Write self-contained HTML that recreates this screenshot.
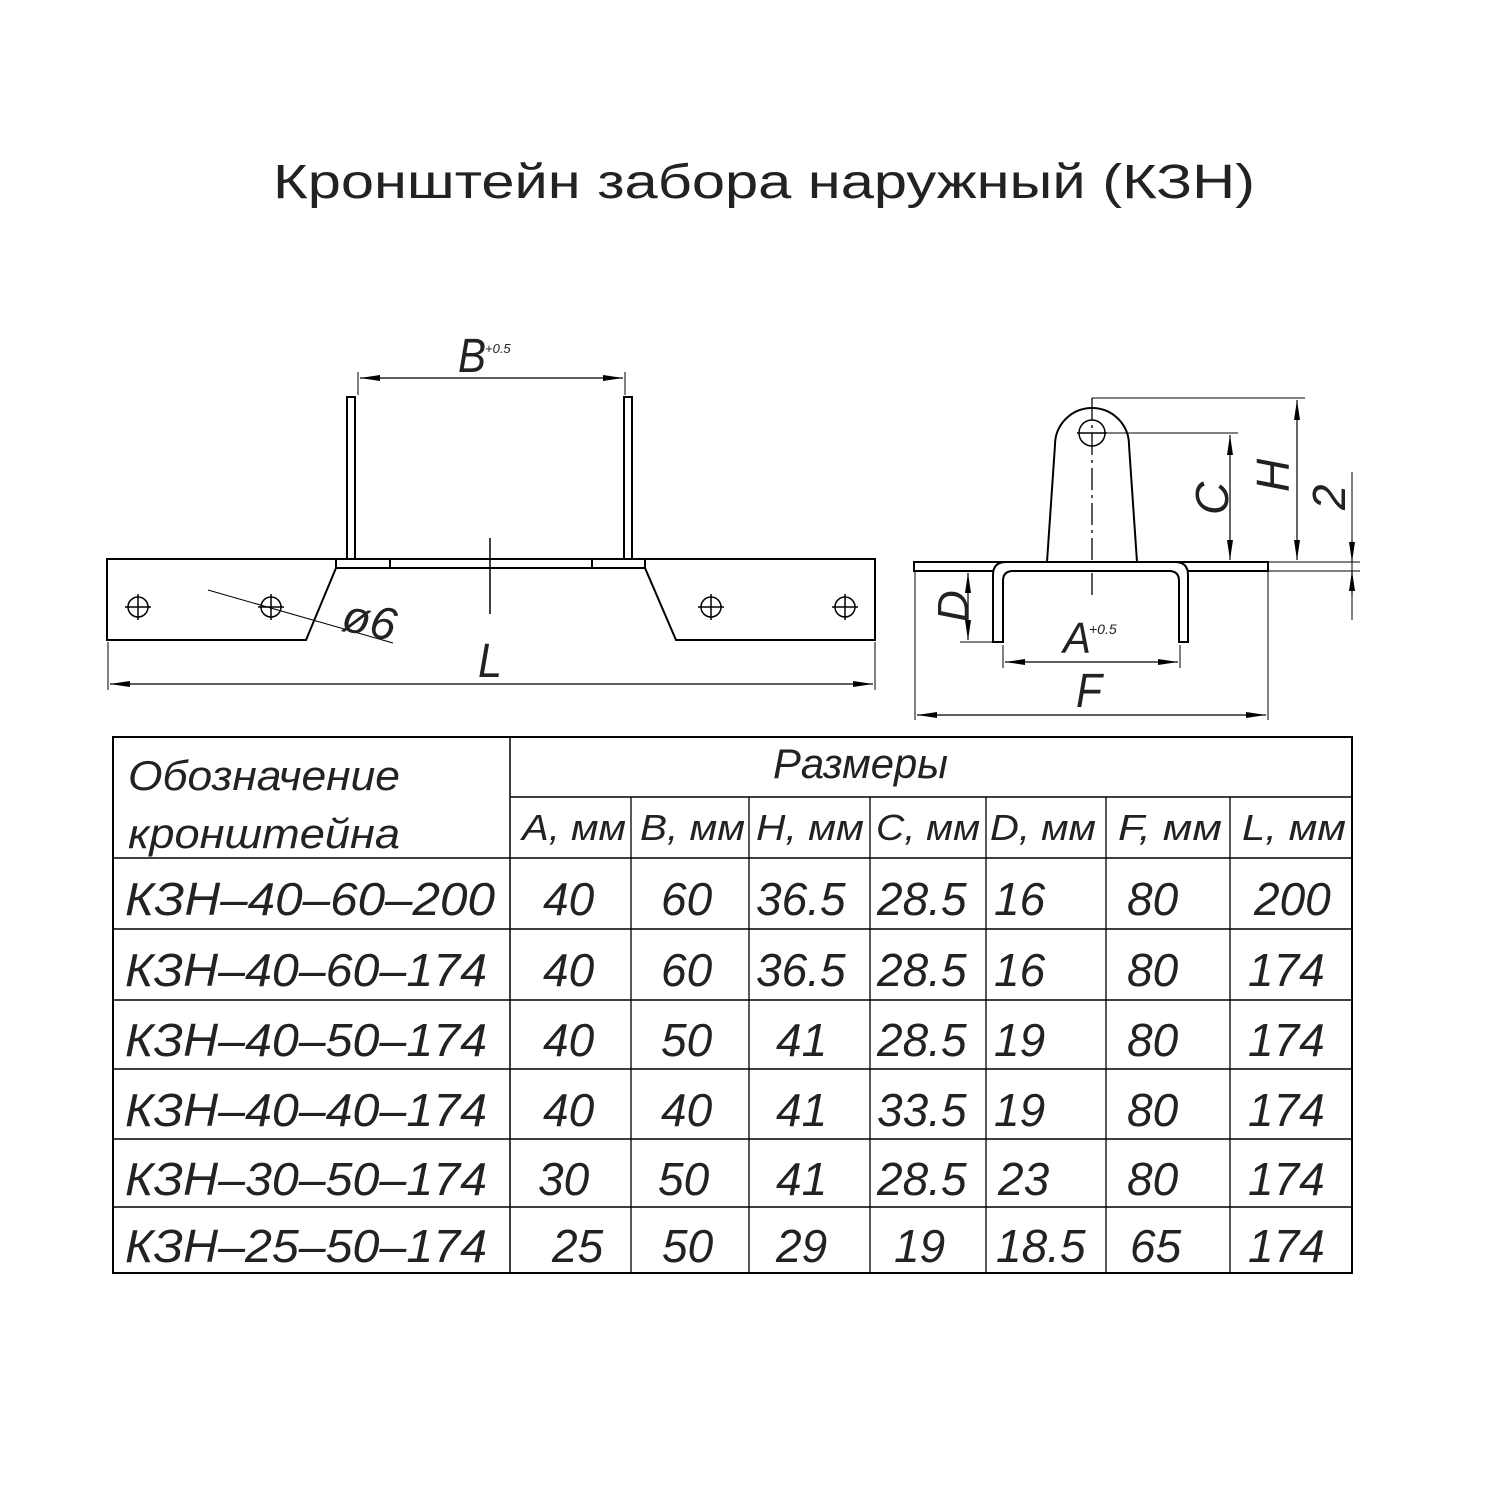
<!DOCTYPE html>
<html><head><meta charset="utf-8"><style>
html,body{margin:0;padding:0;background:#fff;width:1500px;height:1500px;overflow:hidden}
svg{display:block}
text{font-family:"Liberation Sans","DejaVu Sans",sans-serif;font-style:italic;fill:#222}
</style></head><body>
<svg width="1500" height="1500" viewBox="0 0 1500 1500" xmlns="http://www.w3.org/2000/svg">
<defs>
<marker id="ar" viewBox="0 0 20 8" refX="20" refY="4" markerWidth="20" markerHeight="8" markerUnits="userSpaceOnUse" orient="auto-start-reverse"><path d="M0,1 L20,4 L0,7 Z" fill="#000"/></marker>
</defs>
<text x="273" y="198" font-size="48" style="font-style:normal" textLength="982" lengthAdjust="spacingAndGlyphs">Кронштейн  забора  наружный  (КЗН)</text>

<g stroke="#000" stroke-width="2" fill="none">
<path d="M107,559 H875 V640 H676 L645,568 H336 L306,640 H107 Z"/>
<line x1="336" y1="568" x2="336" y2="559"/><line x1="390" y1="568" x2="390" y2="559"/><line x1="592" y1="568" x2="592" y2="559"/><line x1="645" y1="568" x2="645" y2="559"/>
<path d="M347,559 V397 H355 V559"/><path d="M624,559 V397 H632 V559"/>
<line x1="490" y1="538" x2="490" y2="614" stroke-width="1.5"/>
<g stroke-width="1.5">
<circle cx="138" cy="607" r="10"/><line x1="125" y1="607" x2="151" y2="607"/><line x1="138" y1="594" x2="138" y2="620"/>
<circle cx="271" cy="607" r="10"/><line x1="258" y1="607" x2="284" y2="607"/><line x1="271" y1="594" x2="271" y2="620"/>
<circle cx="711" cy="607" r="10"/><line x1="698" y1="607" x2="724" y2="607"/><line x1="711" y1="594" x2="711" y2="620"/>
<circle cx="845" cy="607" r="10"/><line x1="832" y1="607" x2="858" y2="607"/><line x1="845" y1="594" x2="845" y2="620"/>
</g>
<line x1="208" y1="590" x2="393" y2="643" stroke-width="1"/>
<line x1="358" y1="372" x2="358" y2="395" stroke-width="1"/><line x1="625" y1="372" x2="625" y2="395" stroke-width="1"/>
<line x1="360" y1="378" x2="623" y2="378" stroke-width="1.2" marker-start="url(#ar)" marker-end="url(#ar)"/>
<line x1="108" y1="642" x2="108" y2="690" stroke-width="1"/><line x1="875" y1="642" x2="875" y2="690" stroke-width="1"/>
<line x1="110" y1="684" x2="873" y2="684" stroke-width="1.2" marker-start="url(#ar)" marker-end="url(#ar)"/>

<path d="M914,562 H1268 V571 H914 Z"/>
<path d="M1047,562 L1055,445 A37,37 0 0 1 1129,445 L1137,562" fill="#fff"/>
<circle cx="1092" cy="433" r="13" stroke-width="1.5"/>
<line x1="1077" y1="433" x2="1107" y2="433" stroke-width="1.5"/>
<line x1="1092" y1="398" x2="1092" y2="595" stroke-width="1.3" stroke-dasharray="22,5,3,5"/>
<path d="M993,642 V575 Q993,562 1006,562 H1175 Q1188,562 1188,575 V642 H1179 V581 Q1179,571 1169,571 H1013 Q1003,571 1003,581 V642 Z" fill="#fff"/>
<g stroke-width="1">
<line x1="1092" y1="398" x2="1305" y2="398"/>
<line x1="1107" y1="433" x2="1238" y2="433"/>
<line x1="1268" y1="562" x2="1360" y2="562"/><line x1="1268" y1="571" x2="1360" y2="571"/>
<line x1="960" y1="642" x2="993" y2="642"/>
<line x1="1003" y1="645" x2="1003" y2="668"/><line x1="1180" y1="645" x2="1180" y2="668"/>
<line x1="915" y1="571" x2="915" y2="720"/><line x1="1268" y1="571" x2="1268" y2="720"/>
<line x1="1352" y1="472" x2="1352" y2="620"/>
</g>
<line x1="1230" y1="435" x2="1230" y2="560" stroke-width="1.2" marker-start="url(#ar)" marker-end="url(#ar)"/>
<line x1="1297" y1="400" x2="1297" y2="560" stroke-width="1.2" marker-start="url(#ar)" marker-end="url(#ar)"/>
<line x1="968" y1="573" x2="968" y2="640" stroke-width="1.2" marker-start="url(#ar)" marker-end="url(#ar)"/>
<line x1="1005" y1="662" x2="1178" y2="662" stroke-width="1.2" marker-start="url(#ar)" marker-end="url(#ar)"/>
<line x1="917" y1="715" x2="1266" y2="715" stroke-width="1.2" marker-start="url(#ar)" marker-end="url(#ar)"/>
<line x1="1352" y1="540" x2="1352" y2="562" stroke-width="1.2" marker-end="url(#ar)"/>
<line x1="1352" y1="595" x2="1352" y2="571" stroke-width="1.2" marker-end="url(#ar)"/>

<rect x="113" y="737" width="1239" height="536"/>
<line x1="510" y1="797" x2="1352" y2="797" stroke-width="1.5"/>
<line x1="113" y1="858" x2="1352" y2="858" stroke-width="1.5"/>
<line x1="113" y1="929" x2="1352" y2="929" stroke-width="1.5"/>
<line x1="113" y1="1000" x2="1352" y2="1000" stroke-width="1.5"/>
<line x1="113" y1="1069" x2="1352" y2="1069" stroke-width="1.5"/>
<line x1="113" y1="1139" x2="1352" y2="1139" stroke-width="1.5"/>
<line x1="113" y1="1207" x2="1352" y2="1207" stroke-width="1.5"/>
<line x1="510" y1="737" x2="510" y2="1273" stroke-width="1.5"/>
<g stroke-width="1.3">
<line x1="631" y1="797" x2="631" y2="1273"/><line x1="749" y1="797" x2="749" y2="1273"/>
<line x1="870" y1="797" x2="870" y2="1273"/><line x1="986" y1="797" x2="986" y2="1273"/>
<line x1="1106" y1="797" x2="1106" y2="1273"/><line x1="1230" y1="797" x2="1230" y2="1273"/>
</g>
</g>

<text x="458" y="372" font-size="48" textLength="28" lengthAdjust="spacingAndGlyphs">B</text>
<text x="485" y="353" font-size="13">+0.5</text>
<text font-size="46" transform="translate(340,630) rotate(12)">ø6</text>
<text x="478" y="677" font-size="48" textLength="24" lengthAdjust="spacingAndGlyphs">L</text>
<text x="1063" y="653" font-size="44" textLength="28" lengthAdjust="spacingAndGlyphs">A</text>
<text x="1089" y="634" font-size="14">+0.5</text>
<text x="1076" y="707" font-size="48" textLength="26" lengthAdjust="spacingAndGlyphs">F</text>
<text font-size="46" transform="translate(1228,515) rotate(-90)">C</text>
<text font-size="46" transform="translate(1289,492) rotate(-90)">H</text>
<text font-size="46" transform="translate(1345,510) rotate(-90)">2</text>
<text font-size="44" transform="translate(968,622) rotate(-90)">D</text>

<g font-size="42">
<text x="128" y="790" textLength="272" lengthAdjust="spacingAndGlyphs">Обозначение</text>
<text x="128" y="848" textLength="272" lengthAdjust="spacingAndGlyphs">кронштейна</text>
<text x="773" y="778" textLength="175" lengthAdjust="spacingAndGlyphs">Размеры</text>
</g>
<g font-size="36">
<text x="522" y="840" textLength="104" lengthAdjust="spacingAndGlyphs">A, мм</text>
<text x="640" y="840" textLength="105" lengthAdjust="spacingAndGlyphs">B, мм</text>
<text x="756" y="840" textLength="108" lengthAdjust="spacingAndGlyphs">H, мм</text>
<text x="876" y="840" textLength="104" lengthAdjust="spacingAndGlyphs">C, мм</text>
<text x="990" y="840" textLength="106" lengthAdjust="spacingAndGlyphs">D, мм</text>
<text x="1118" y="840" textLength="104" lengthAdjust="spacingAndGlyphs">F, мм</text>
<text x="1242" y="840" textLength="104" lengthAdjust="spacingAndGlyphs">L, мм</text>
</g>
<g font-size="46">
<text x="125" y="915" textLength="370" lengthAdjust="spacingAndGlyphs">КЗН–40–60–200</text>
<text x="125" y="986" textLength="362" lengthAdjust="spacingAndGlyphs">КЗН–40–60–174</text>
<text x="125" y="1056" textLength="362" lengthAdjust="spacingAndGlyphs">КЗН–40–50–174</text>
<text x="125" y="1126" textLength="362" lengthAdjust="spacingAndGlyphs">КЗН–40–40–174</text>
<text x="125" y="1195" textLength="362" lengthAdjust="spacingAndGlyphs">КЗН–30–50–174</text>
<text x="125" y="1262" textLength="362" lengthAdjust="spacingAndGlyphs">КЗН–25–50–174</text>

<text x="543" y="915">40</text><text x="661" y="915">60</text><text x="756" y="915">36.5</text><text x="877" y="915">28.5</text><text x="994" y="915">16</text><text x="1127" y="915">80</text><text x="1254" y="915">200</text>
<text x="543" y="986">40</text><text x="661" y="986">60</text><text x="756" y="986">36.5</text><text x="877" y="986">28.5</text><text x="994" y="986">16</text><text x="1127" y="986">80</text><text x="1248" y="986">174</text>
<text x="543" y="1056">40</text><text x="661" y="1056">50</text><text x="776" y="1056">41</text><text x="877" y="1056">28.5</text><text x="994" y="1056">19</text><text x="1127" y="1056">80</text><text x="1248" y="1056">174</text>
<text x="543" y="1126">40</text><text x="661" y="1126">40</text><text x="776" y="1126">41</text><text x="877" y="1126">33.5</text><text x="994" y="1126">19</text><text x="1127" y="1126">80</text><text x="1248" y="1126">174</text>
<text x="538" y="1195">30</text><text x="658" y="1195">50</text><text x="776" y="1195">41</text><text x="877" y="1195">28.5</text><text x="998" y="1195">23</text><text x="1127" y="1195">80</text><text x="1248" y="1195">174</text>
<text x="552" y="1262">25</text><text x="662" y="1262">50</text><text x="776" y="1262">29</text><text x="894" y="1262">19</text><text x="996" y="1262">18.5</text><text x="1130" y="1262">65</text><text x="1248" y="1262">174</text>
</g>
</svg>
</body></html>
